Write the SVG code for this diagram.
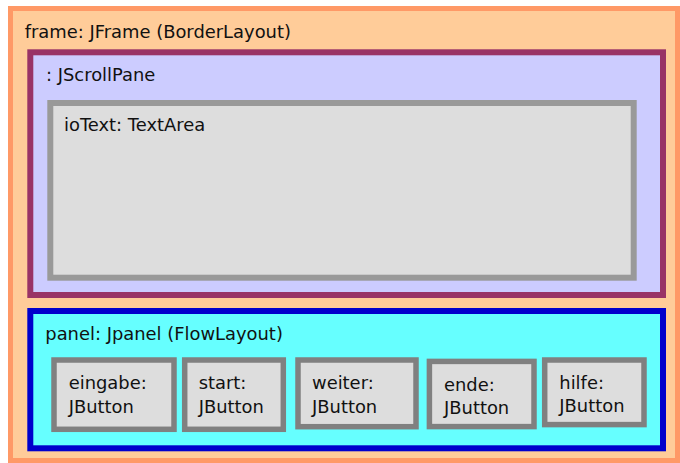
<svg xmlns="http://www.w3.org/2000/svg" width="680" height="463" viewBox="0 0 680 463">
<style>
text{font-family:"DejaVu Sans",Verdana,sans-serif;font-size:17.9px;fill:#111111}
.btn{fill:#DDDDDD;stroke:#808080;stroke-width:5.5}
</style>
<rect x="0" y="0" width="680" height="463" fill="#FFFFFF"/>
<g id="frame">
<rect x="10.5" y="8.5" width="667" height="452" fill="#FFCC99" stroke="#FF9966" stroke-width="5"/>
<text x="24.7" y="38">frame: JFrame (BorderLayout)</text>
</g>
<g id="scrollpane">
<rect x="30.3" y="52.3" width="632.7" height="242.7" fill="#CCCCFF" stroke="#993366" stroke-width="6"/>
<text x="46" y="81">: JScrollPane</text>
</g>
<g id="ioText">
<rect x="50.3" y="103" width="583.4" height="174.7" fill="#DDDDDD" stroke="#999999" stroke-width="6"/>
<text x="64" y="131">ioText: TextArea</text>
</g>
<g id="panel">
<rect x="30.3" y="311" width="632.7" height="137.3" fill="#66FFFF" stroke="#0000CC" stroke-width="6"/>
<text x="45.3" y="340">panel: Jpanel (FlowLayout)</text>
</g>
<g id="eingabe">
<rect class="btn" x="54" y="360" width="120" height="69.3"/>
<text x="68.7" y="389.3">eingabe:</text>
<text x="68.7" y="412.7">JButton</text>
</g>
<g id="start">
<rect class="btn" x="184.7" y="360" width="98.6" height="69.3"/>
<text x="198.7" y="389.3">start:</text>
<text x="198.7" y="412.7">JButton</text>
</g>
<g id="weiter">
<rect class="btn" x="298" y="360" width="118" height="66.7"/>
<text x="312" y="389.3">weiter:</text>
<text x="312" y="412.7">JButton</text>
</g>
<g id="ende">
<rect class="btn" x="429.4" y="361.4" width="104.6" height="65.2"/>
<text x="444" y="390.7">ende:</text>
<text x="444" y="413.5">JButton</text>
</g>
<g id="hilfe">
<rect class="btn" x="544.7" y="360" width="99.3" height="64.6"/>
<text x="559.3" y="388.7">hilfe:</text>
<text x="559.3" y="412">JButton</text>
</g>
<g id="connectors"></g>
</svg>
